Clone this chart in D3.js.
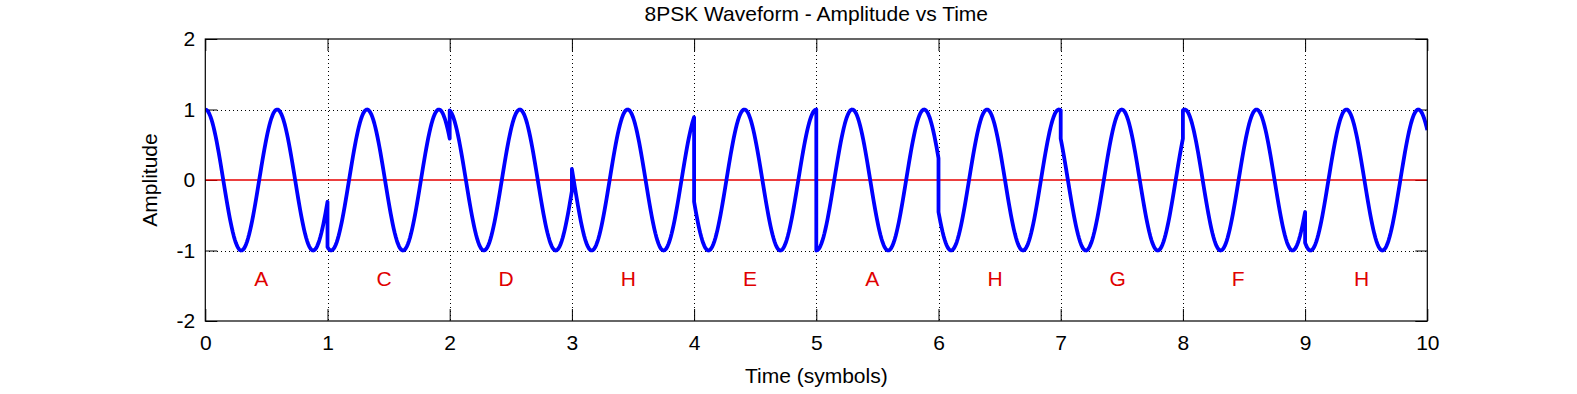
<!DOCTYPE html>
<html>
<head>
<meta charset="utf-8">
<script src="https://cdn.jsdelivr.net/npm/d3@7"></script>
<style>
  html, body { margin: 0; padding: 0; background: #fff; }
  svg text { font-family: "Liberation Sans", Arial, Helvetica, sans-serif; }
</style>
</head>
<body>
<svg id="chart"></svg>
<script>
// symbol sequence shown under the waveform
const symbols = ["A", "C", "D", "H", "E", "A", "H", "G", "F", "H"];

// 8PSK constellation: letter -> phase (degrees)
const letters = ["A", "B", "C", "D", "E", "F", "G", "H"];
const letterPhaseDeg = [0, 45, 90, 135, 180, 225, 270, 315];

// carrier cycles per symbol
const carrierCycles = 1.7;
const samplesPerSymbol = 120;

const xTicks = [0, 1, 2, 3, 4, 5, 6, 7, 8, 9, 10];
const yTicks = [-2, -1, 0, 1, 2];
const yGrid = [-1, 1];

const width = 1577, height = 394;
const margin = { left: 205.3, right: 1577 - 1427.3, top: 39, bottom: 394 - 321 };
const fontSize = 21;

const svg = d3.select("#chart").attr("width", width).attr("height", height);

const x = d3.scaleLinear().domain([0, symbols.length]).range([margin.left, width - margin.right]);
const y = d3.scaleLinear().domain([-2, 2]).range([height - margin.bottom, margin.top]);

// build waveform samples, phase per symbol
const wave = [];
symbols.forEach((s, k) => {
  const phi = letterPhaseDeg[letters.indexOf(s)] * Math.PI / 180;
  for (let i = 0; i <= samplesPerSymbol; i++) {
    const t = k + i / samplesPerSymbol;
    wave.push([t, Math.cos(2 * Math.PI * carrierCycles * t - phi)]);
  }
});

// Grid lines (dotted)
const grid = svg.append("g").attr("stroke", "#000").attr("stroke-width", 1)
  .attr("stroke-dasharray", "1,3").attr("shape-rendering", "crispEdges");
grid.selectAll(".vg").data(xTicks.slice(1, -1)).enter().append("line")
  .attr("x1", d => Math.round(x(d)) + 0.5).attr("x2", d => Math.round(x(d)) + 0.5)
  .attr("y1", y(2)).attr("y2", y(-2));
grid.selectAll(".hg").data(yGrid).enter().append("line")
  .attr("y1", d => Math.round(y(d)) + 0.5).attr("y2", d => Math.round(y(d)) + 0.5)
  .attr("x1", x(0)).attr("x2", x(10));

// Axes with inward ticks
const tickLen = 12;
function styleAxis(g) {
  g.select(".domain").remove();
  g.selectAll(".tick line").attr("stroke", "#000").attr("stroke-width", 1);
  g.selectAll(".tick text").attr("fill", "#000").style("font-size", fontSize + "px")
    .style("font-family", "'Liberation Sans', Arial, sans-serif");
}
const fmt = d => String(d);
svg.append("g").attr("transform", `translate(0,${y(-2)})`)
  .call(d3.axisBottom(x).tickValues(xTicks).tickFormat(fmt).tickSizeInner(-tickLen).tickSizeOuter(0).tickPadding(14))
  .call(styleAxis);
svg.append("g").attr("transform", `translate(0,${y(2)})`)
  .call(d3.axisTop(x).tickValues(xTicks).tickSizeInner(-tickLen).tickSizeOuter(0).tickFormat(""))
  .call(styleAxis);
svg.append("g").attr("transform", `translate(${x(0)},0)`)
  .call(d3.axisLeft(y).tickValues(yTicks).tickFormat(fmt).tickSizeInner(-tickLen).tickSizeOuter(0).tickPadding(10))
  .call(styleAxis);
svg.append("g").attr("transform", `translate(${x(10)},0)`)
  .call(d3.axisRight(y).tickValues(yTicks).tickSizeInner(-tickLen).tickSizeOuter(0).tickFormat(""))
  .call(styleAxis);

// Zero reference line (drawn after the axes so ticks at 0 don't cover it)
svg.append("line")
  .attr("x1", x(0)).attr("x2", x(10))
  .attr("y1", y(0)).attr("y2", y(0))
  .style("stroke", "rgb(230,0,0)").style("stroke-width", "1.6px");

// Clip for the waveform
svg.append("clipPath").attr("id", "plot-clip").append("rect")
  .attr("x", x(0)).attr("y", y(2)).attr("width", x(10) - x(0)).attr("height", y(-2) - y(2));

const line = d3.line().x(d => x(d[0])).y(d => y(d[1]));
svg.append("path")
  .datum(wave)
  .attr("clip-path", "url(#plot-clip)")
  .attr("fill", "none")
  .attr("stroke", "#0000ff")
  .attr("stroke-width", 3.8)
  .attr("stroke-linejoin", "round")
  .attr("d", line);

// Symbol labels
svg.selectAll(".sym").data(symbols).enter().append("text")
  .attr("x", (d, i) => x(i + 0.4))
  .attr("y", y(-1.4))
  .attr("dy", "0.36em")
  .attr("fill", "#e00000")
  .style("font-size", fontSize + "px")
  .text(d => d);

// Box
svg.append("rect")
  .attr("x", x(0)).attr("y", y(2)).attr("width", x(10) - x(0)).attr("height", y(-2) - y(2))
  .attr("fill", "none").attr("stroke", "#000").attr("stroke-width", 1.2);

// Title and axis labels
svg.append("text").attr("x", (x(0) + x(10)) / 2).attr("y", 21)
  .attr("text-anchor", "middle").style("font-size", fontSize + "px")
  .text("8PSK Waveform - Amplitude vs Time");
svg.append("text").attr("x", (x(0) + x(10)) / 2).attr("y", 383)
  .attr("text-anchor", "middle").style("font-size", fontSize + "px")
  .text("Time (symbols)");
svg.append("text")
  .attr("transform", `translate(157,${y(0)}) rotate(-90)`)
  .attr("text-anchor", "middle").style("font-size", fontSize + "px")
  .text("Amplitude");
</script>
</body>
</html>
